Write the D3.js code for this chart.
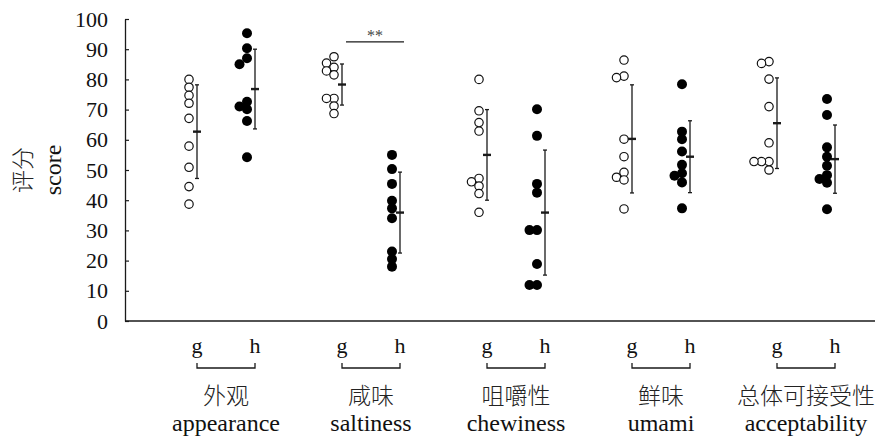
<!DOCTYPE html>
<html>
<head>
<meta charset="utf-8">
<script src="https://cdn.jsdelivr.net/npm/d3@7"></script>
<style>
    html, body { margin: 0; padding: 0; background: #fff; }
    svg { display: block; }
    .serif { font-family: "Liberation Serif", "Times New Roman", "DejaVu Serif", serif; }
    .cjk { font-family: "Noto Sans CJK SC", "Noto Sans CJK JP", sans-serif; font-weight: 300; }
</style>
</head>
<body>
<div id="chart"></div>
<script>
// Data
const categoriesZh = ["外观", "咸味", "咀嚼性", "鲜味", "总体可接受性"];
const categoriesEn = ["appearance", "saltiness", "chewiness", "umami", "acceptability"];
const groupNames = ["g", "h"];
const yTicks = [0, 10, 20, 30, 40, 50, 60, 70, 80, 90, 100];

// individual panel scores (9 per group)
const gScores = [
    [80, 77.4, 74.7, 72.1, 67.1, 57.9, 50.9, 44.5, 38.7],
    [87.5, 85.4, 84, 82.8, 81.5, 73.7, 73.7, 71.2, 68.7],
    [80, 69.6, 65.7, 62.9, 47.2, 46.1, 44.7, 42.2, 36],
    [86.4, 81.1, 80.6, 60.2, 54.4, 49.2, 47.6, 46.7, 37.1],
    [85.9, 85.3, 80.1, 71, 59, 52.8, 52.8, 52.8, 50]
];
const hScores = [
    [95.3, 90.3, 87, 85, 72.6, 71, 70.1, 66.2, 54.2],
    [55, 50.3, 45.4, 39.8, 37.3, 34, 23, 20.5, 18],
    [70.1, 61.3, 45.4, 42.5, 30.1, 30.1, 18.9, 11.9, 11.9],
    [78.4, 62.7, 60.2, 56.1, 51.7, 48.9, 48.1, 45.9, 37.3],
    [73.5, 68.2, 57.5, 54.4, 51.4, 48.3, 47, 45.8, 37]
];

// mean +/- SD shown by the error bars
const gMean = [62.7, 78.3, 55, 60.3, 65.5];
const gSd = [15.5, 6.8, 15, 17.9, 15];
const hMean = [76.8, 35.9, 35.9, 54.4, 53.6];
const hSd = [13.2, 13.4, 20.7, 11.9, 11.3];

// significance marks: [category, label, level]
const significance = [["saltiness", "**", 92.4]];

const W = 882, H = 441;
const INK = "#1a1a1a";

const svg = d3.select("#chart").append("svg")
    .attr("width", W)
    .attr("height", H);

const y = d3.scaleLinear().domain([0, 100]).range([321, 19]);
const x = d3.scalePoint().domain(categoriesEn).range([226, 806]);

const halfPair = 29;     // bar distance from pair centre
const pointShift = -8;   // points sit left of their bar
const dodgeStep = 7.5;   // sideways step for overlapping points
const minGap = 2.45;     // score gap below which points are dodged

// Y axis (ticks point inwards)
const yAxis = svg.append("g")
    .attr("transform", "translate(125,0)")
    .call(d3.axisLeft(y).tickValues(yTicks).tickSizeInner(-4).tickSizeOuter(0).tickPadding(17));
yAxis.attr("font-family", null).attr("font-size", null);
yAxis.select(".domain").attr("stroke", INK).attr("stroke-width", 1.3);
yAxis.selectAll(".tick line").attr("stroke", INK).attr("stroke-width", 1.2);
yAxis.selectAll(".tick text")
    .attr("class", "serif")
    .style("font-size", "22px")
    .attr("fill", "#111");

// X axis baseline
svg.append("line")
    .attr("x1", 125).attr("x2", 875)
    .attr("y1", y(0)).attr("y2", y(0))
    .attr("stroke", INK).attr("stroke-width", 1.3);

// Y title
svg.append("text")
    .attr("class", "cjk")
    .attr("transform", `translate(21,${y(50)}) rotate(-90)`)
    .attr("text-anchor", "middle")
    .attr("dominant-baseline", "central")
    .style("font-size", "23px")
    .attr("fill", "#222")
    .text("评分");
svg.append("text")
    .attr("class", "serif")
    .attr("transform", `translate(53,${y(50)}) rotate(-90)`)
    .attr("text-anchor", "middle")
    .attr("dominant-baseline", "central")
    .style("font-size", "24px")
    .attr("fill", "#111")
    .text("score");

// Build series
const series = [];
categoriesEn.forEach((cat, i) => {
    series.push({ cat, grp: "g", side: -1, scores: gScores[i], mean: gMean[i], sd: gSd[i] });
    series.push({ cat, grp: "h", side: 1, scores: hScores[i], mean: hMean[i], sd: hSd[i] });
});

function barX(d) {
    return x(d.cat) + d.side * halfPair;
}

// dodge overlapping points into columns to the left
function dodge(scores) {
    const sorted = scores.slice().sort((a, b) => b - a);
    const lastInCol = [];
    return sorted.map(v => {
        let k = 0;
        while (lastInCol[k] !== undefined && Math.abs(lastInCol[k] - v) < minGap) k++;
        lastInCol[k] = v;
        return { v, col: k };
    });
}

// Error bars
const bars = svg.append("g").attr("class", "errorbars")
    .selectAll("g")
    .data(series)
    .join("g");

bars.append("line")
    .attr("x1", barX).attr("x2", barX)
    .attr("y1", d => y(d.mean + d.sd))
    .attr("y2", d => y(d.mean - d.sd))
    .attr("stroke", INK).attr("stroke-width", 1.3);

[1, -1].forEach(s => {
    bars.append("line")
        .attr("x1", d => barX(d) - 2).attr("x2", d => barX(d) + 2)
        .attr("y1", d => y(d.mean + s * d.sd))
        .attr("y2", d => y(d.mean + s * d.sd))
        .attr("stroke", INK).attr("stroke-width", 1.3);
});

bars.append("line")
    .attr("x1", d => barX(d) - 4).attr("x2", d => barX(d) + 4)
    .attr("y1", d => y(d.mean)).attr("y2", d => y(d.mean))
    .attr("stroke", INK).attr("stroke-width", 2.4);

// Points
const pts = svg.append("g").attr("class", "points");
series.forEach(d => {
    const bx = barX(d) + pointShift;
    pts.selectAll(null)
        .data(dodge(d.scores))
        .join("circle")
        .attr("cx", p => bx - p.col * dodgeStep)
        .attr("cy", p => y(p.v))
        .attr("r", d.grp === "g" ? 4.2 : 5)
        .attr("fill", d.grp === "g" ? "#fff" : "#000")
        .attr("stroke", d.grp === "g" ? "#111" : "none")
        .attr("stroke-width", 1.2);
});

// Significance
significance.forEach(([cat, label, level]) => {
    const x1 = x(cat) - halfPair + 4, x2 = x(cat) + halfPair + 4;
    svg.append("line")
        .attr("x1", x1).attr("x2", x2)
        .attr("y1", y(level)).attr("y2", y(level))
        .attr("stroke", INK).attr("stroke-width", 1.3);
    svg.append("text")
        .attr("class", "serif")
        .attr("x", (x1 + x2) / 2)
        .attr("y", y(level) - 1)
        .attr("text-anchor", "middle")
        .style("font-size", "16px")
        .attr("fill", "#444")
        .text(label);
});

// Category labels with g/h brackets
const lab = svg.append("g").attr("class", "xlabels")
    .selectAll("g")
    .data(categoriesEn)
    .join("g")
    .attr("transform", d => `translate(${x(d)},0)`);

groupNames.forEach((gname, j) => {
    lab.append("text")
        .attr("class", "serif")
        .attr("x", (j === 0 ? -1 : 1) * halfPair)
        .attr("y", 353)
        .attr("text-anchor", "middle")
        .style("font-size", "22px")
        .attr("fill", "#111")
        .text(gname);
});

lab.append("path")
    .attr("d", `M${-halfPair},363V368H${halfPair}V363`)
    .attr("fill", "none")
    .attr("stroke", INK)
    .attr("stroke-width", 1.3);

lab.append("text")
    .attr("class", "cjk")
    .attr("y", 404)
    .attr("text-anchor", "middle")
    .style("font-size", "23px")
    .attr("fill", "#222")
    .text((d, i) => categoriesZh[i]);

lab.append("text")
    .attr("class", "serif")
    .attr("y", 431)
    .attr("text-anchor", "middle")
    .style("font-size", "24px")
    .attr("fill", "#111")
    .text(d => d);
</script>
</body>
</html>
